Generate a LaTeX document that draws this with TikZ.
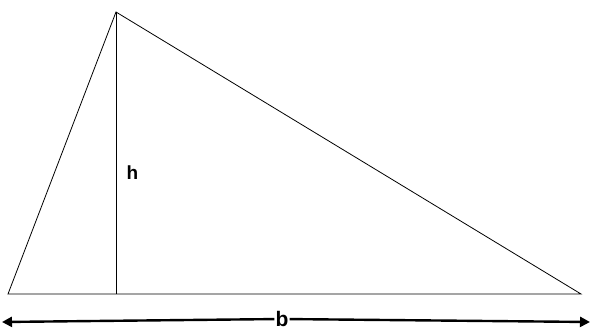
\documentclass[tikz,border=0pt]{standalone}
\usepackage{fontspec}
\setmainfont{Liberation Sans}
\usetikzlibrary{arrows.meta}
\begin{document}
\begin{tikzpicture}[x=1pt, y=-1pt]
        \useasboundingbox (0, 0) rectangle (590, 334);

        % Vertices of the triangle
        \coordinate (A) at (8, 294);
        \coordinate (B) at (581, 294);
        \coordinate (C) at (116, 12);
        \coordinate (H) at (116, 294);

        % Triangle
        \draw [line width=0.8pt] (A) -- (B) -- (C) -- cycle;

        % Height
        \draw [line width=0.8pt] (C) -- (H)
          node (h) [pos=0.57, right=7pt, font=\fontsize{19}{21}\selectfont\bfseries] {h};

        % Base b with double arrow
        \coordinate (L) at (2, 322);
        \coordinate (R) at (590, 322);
        \node (b) [inner sep=1pt, font=\fontsize{21}{23}\selectfont\bfseries] at (282, 319) {b};
        \draw [line width=2.4pt, -{Triangle[length=10pt, width=10pt]}] (b) -- (L);
        \draw [line width=2.4pt, -{Triangle[length=10pt, width=10pt]}] (b) -- (R);

      \end{tikzpicture}
\end{document}
